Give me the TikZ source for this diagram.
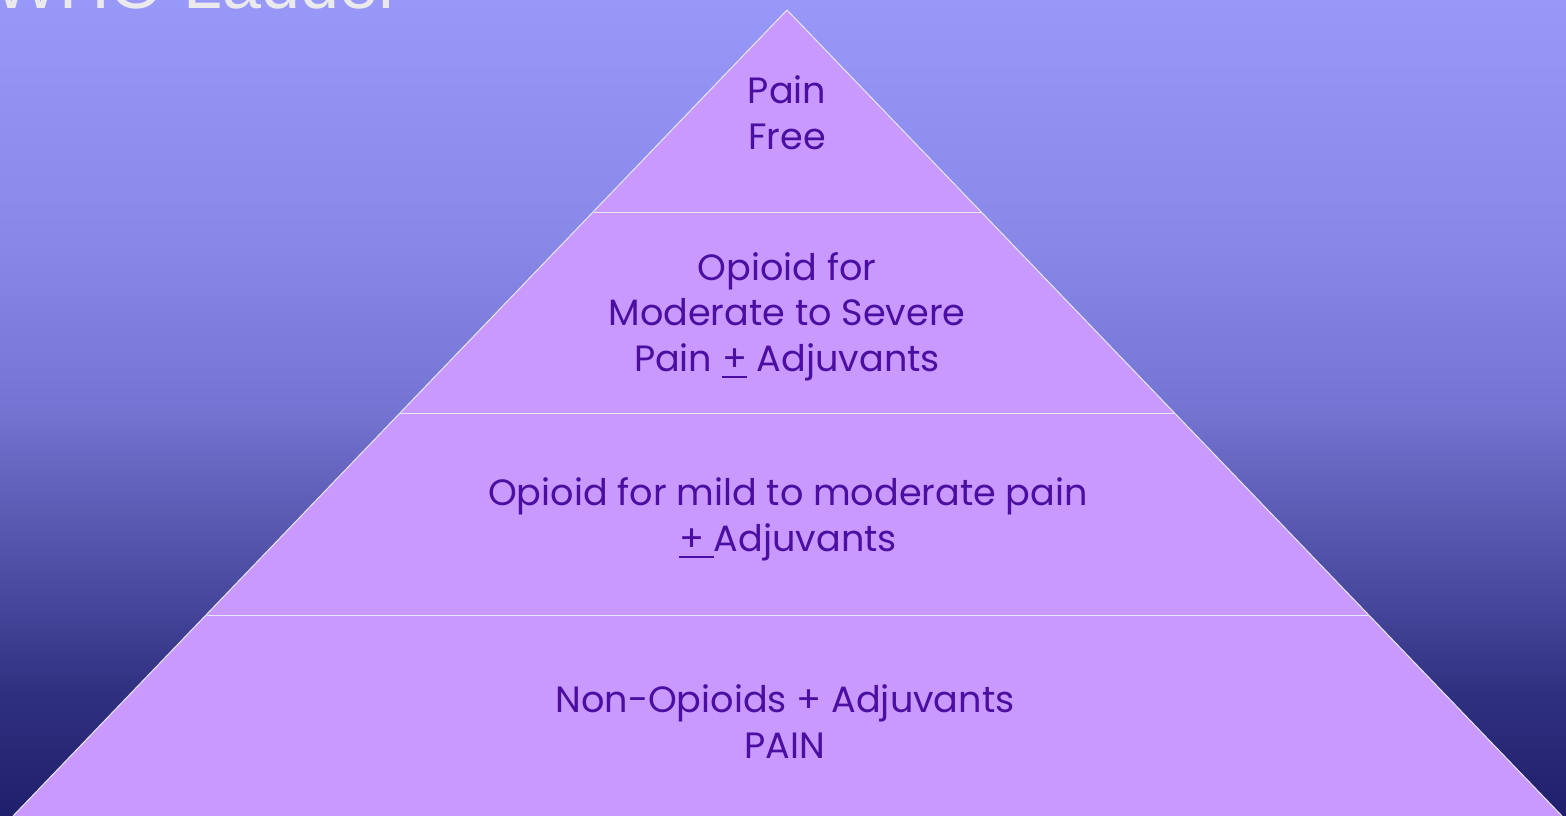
\documentclass[tikz,border=0pt]{standalone}
\usepackage{fontspec}
\newfontfamily\titlefont{Liberation Sans}
\newfontfamily\gothicfont{Poppins}
\definecolor{bgtop}{RGB}{152,152,249}
\definecolor{bgmid}{RGB}{116,116,210}
\definecolor{bgbot}{RGB}{31,31,108}
\definecolor{tierfill}{RGB}{201,153,253}
\definecolor{tiertext}{RGB}{74,14,160}
\definecolor{edgecol}{RGB}{232,232,250}
\definecolor{titlecol}{RGB}{234,234,236}
\pgfdeclareverticalshading{bgshade}{100bp}{
  color(0bp)=(bgbot);
  color(25bp)=(bgbot);
  color(32.5bp)=(bgbot!80!bgmid);
  color(40bp)=(bgbot!45!bgmid);
  color(50bp)=(bgmid);
  color(60bp)=(bgmid!45!bgtop);
  color(75bp)=(bgtop);
  color(100bp)=(bgtop)}
\newsavebox\ulbox
\newcommand\thickul[1]{\sbox\ulbox{#1}\leavevmode\rlap{\rule[-7pt]{\wd\ulbox}{2.5pt}}\usebox\ulbox}
\tikzset{
  tierlabel/.style={text=tiertext, align=center, inner sep=0pt,
    font=\gothicfont\fontsize{36.6}{45.5}\selectfont},
  edge/.style={draw=edgecol, line width=1pt}
}
\begin{document}
\begin{tikzpicture}[x=1pt,y=-1pt]
\useasboundingbox (0,0) rectangle (1566,816);
\shade[shading=bgshade] (0,0) rectangle (1566,816);
\node[anchor=base west, text=titlecol, inner sep=0pt,
  font=\titlefont\fontsize{70}{70}\selectfont] (title) at (-7,9) {WHO Ladder};
\coordinate (apex) at (787,10);
\coordinate (bl) at (13,816);
\coordinate (br) at (1562,816);
\coordinate (l1) at (593.5,212); \coordinate (r1) at (980.5,212);
\coordinate (l2) at (400,413);   \coordinate (r2) at (1174,413);
\coordinate (l3) at (206.5,615); \coordinate (r3) at (1368,615);
\fill[tierfill] (apex) -- (bl) -- (br) -- cycle;
\draw[edge] (bl) -- (apex) -- (br);
\draw[edge] (l1) -- (r1);
\draw[edge] (l2) -- (r2);
\draw[edge] (l3) -- (r3);
\node[tierlabel, anchor=base] (t1) at (787,149) {Pain\\Free};
\node[tierlabel, anchor=base] (t2) at (787,371) {Opioid for\\Moderate to Severe\\Pain \thickul{+} Adjuvants};
\node[tierlabel, anchor=base] (t3) at (788,551) {Opioid for mild to moderate pain\\\thickul{+\ }Adjuvants};
\node[tierlabel, anchor=base] (t4) at (785,758) {Non-Opioids + Adjuvants\\PAIN};
\end{tikzpicture}
\end{document}
